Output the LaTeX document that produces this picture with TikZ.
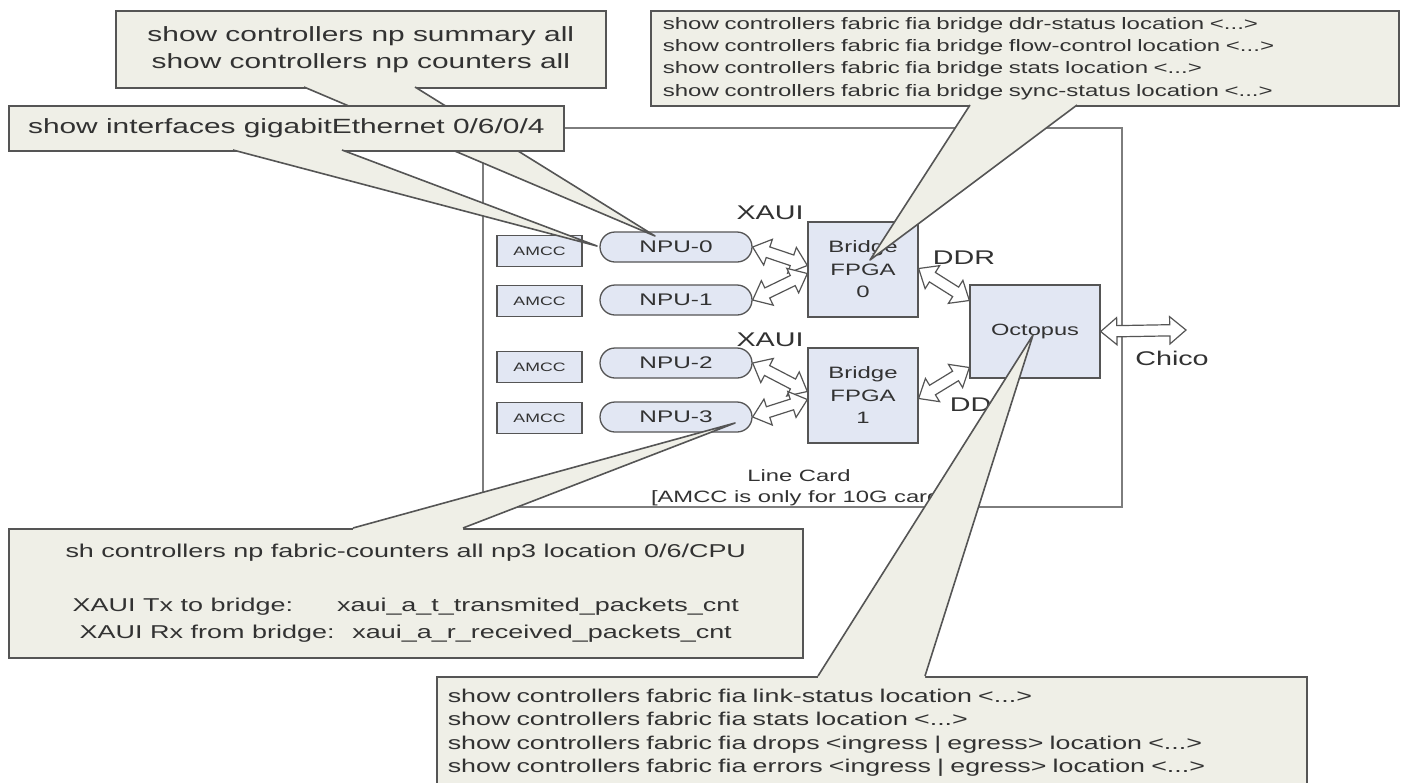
\documentclass[tikz,border=0pt]{standalone}
\usepackage{fontspec}
\setmainfont{Liberation Sans}[FakeStretch=1.45]
\usetikzlibrary{shapes.arrows,calc}
\definecolor{blockfill}{RGB}{226,231,243}
\definecolor{callfill}{RGB}{239,239,231}
\definecolor{edgecol}{RGB}{85,85,85}
\definecolor{txtcol}{RGB}{50,50,50}
\definecolor{cardcol}{RGB}{125,125,125}
\tikzset{
  every node/.style={text=txtcol},
  blockbox/.style={draw=edgecol, fill=blockfill, line width=1.3pt, inner sep=0pt},
  npubox/.style={blockbox, rounded corners=15pt, minimum width=152pt, minimum height=30pt, font=\fontsize{16.8}{20}\selectfont},
  amccbox/.style={blockbox, minimum width=85pt, minimum height=31pt, font=\fontsize{12.2}{14}\selectfont},
  bridgebox/.style={blockbox, minimum width=110pt, minimum height=95pt, align=center, font=\fontsize{16.5}{22.5}\selectfont},
  octbox/.style={blockbox, minimum width=130pt, minimum height=93pt, font=\fontsize{16.3}{20}\selectfont},
  cardbox/.style={draw=cardcol, fill=white, line width=1.8pt, inner sep=0pt, anchor=north west},
  callbox/.style={draw=edgecol, fill=callfill, line width=1.6pt, inner sep=0pt, anchor=north west},
  callline/.style={draw=edgecol, line width=1.6pt, line join=round},
  dblarr/.style={double arrow, draw=edgecol, fill=white, line width=1.2pt, inner xsep=0pt, inner ysep=5pt, minimum width=26pt, double arrow head extend=8pt, double arrow tip angle=80},
  biglabel/.style={font=\fontsize{19.8}{22}\selectfont, inner sep=0pt},
  smalllabel/.style={font=\fontsize{16.4}{21}\selectfont, inner sep=0pt, align=center},
}
\newcommand{\dblarrow}[3]{%
  \path let \p1=(#2), \p2=(#3), \n1={atan2(\y2-\y1,\x2-\x1)}, \n2={veclen(\x2-\x1,\y2-\y1)} in
    node[dblarr, minimum height=\n2, rotate=\n1] (#1) at ($(\p1)!0.5!(\p2)$) {};}
\newcommand{\calltail}[4]{%
  \fill[callfill] ($(#1)+(0,#4)$) -- (#1) -- (#2) -- (#3) -- ($(#3)+(0,#4)$) -- cycle;
  \draw[callline] (#1) -- (#2) -- (#3);}
\begin{document}
\begin{tikzpicture}[x=1pt,y=-1pt]
\fill[white] (0,0) rectangle (1404,782);
\useasboundingbox (0,0) rectangle (1404,782);

% line card
\node[cardbox, minimum width=639pt, minimum height=379pt] (card) at (482,127) {};

% blocks
\node[amccbox] (amcc0) at (539.5,251) {AMCC};
\node[amccbox] (amcc1) at (539.5,301) {AMCC};
\node[amccbox] (amcc2) at (539.5,367) {AMCC};
\node[amccbox] (amcc3) at (539.5,418) {AMCC};
\node[npubox] (npu0) at (676,247) {NPU-0};
\node[npubox] (npu1) at (676,300) {NPU-1};
\node[npubox] (npu2) at (676,363) {NPU-2};
\node[npubox] (npu3) at (676,417) {NPU-3};
\node[bridgebox] (br0) at (863,269.5) {Bridge\\FPGA\\0};
\node[bridgebox] (br1) at (863,395.5) {Bridge\\FPGA\\1};
\node[octbox] (oct) at (1035,331.5) {Octopus};
\coordinate (chicoend) at (1186,330);

% arrows
\dblarrow{ar1}{npu0.east}{$(br0.west)+(0,-4)$}
\dblarrow{ar2}{npu1.east}{$(br0.west)+(0,4)$}
\dblarrow{ar3}{npu2.east}{$(br1.west)+(0,-4)$}
\dblarrow{ar4}{npu3.east}{$(br1.west)+(0,4)$}
\dblarrow{ar5}{$(br0.east)+(0,-1)$}{$(oct.west)+(0,-31)$}
\dblarrow{ar6}{$(br1.east)+(0,3)$}{$(oct.west)+(0,36)$}
\dblarrow{ar7}{oct.east}{chicoend}

% labels
\node[biglabel] (xaui0) at (770,213) {XAUI};
\node[biglabel] (xaui1) at (770,340) {XAUI};
\node[biglabel] (ddr0) at (964,258) {DDR};
\node[biglabel] (ddr1) at (981,405) {DDR};
\node[biglabel] (chico) at (1172,358) {Chico};
\node[smalllabel] (cardlbl) at (799,487.5) {Line Card\\{[}AMCC is only for 10G card{]}};

% callout: np summary
\node[callbox, minimum width=490pt, minimum height=77pt, align=center, font=\fontsize{20.6}{27}\selectfont] (summ) at (115,10)
  {show controllers np summary all\\show controllers np counters all};
\coordinate (s1) at (304,87);
\coordinate (s2) at (415,87);
\coordinate (stip) at (655,236);
\calltail{s1}{stip}{s2}{-3}

% callout: interfaces
\node[callbox, minimum width=555pt, minimum height=45pt, font=\fontsize{20.6}{27}\selectfont] (gige) at (8,105)
  {show interfaces gigabitEthernet 0/6/0/4};
\coordinate (g1) at (233,150);
\coordinate (g2) at (342,150);
\coordinate (gtip) at (597,246);
\calltail{g1}{gtip}{g2}{-3}

% callout: fia bridge
\node[callbox, minimum height=95pt, inner xsep=12pt, text width=724pt, align=left, font=\fontsize{16.6}{22.3}\selectfont] (fiab) at (650,10)
  {show controllers fabric fia bridge ddr-status location <...>\\
   show controllers fabric fia bridge flow-control location <...>\\
   show controllers fabric fia bridge stats location <...>\\
   show controllers fabric fia bridge sync-status location <...>};
\coordinate (f1) at (970,105);
\coordinate (f2) at (1077,105);
\coordinate (ftip) at (870,260);
\calltail{f1}{ftip}{f2}{-3}

% callout: np fabric counters
\node[callbox, minimum width=794pt, minimum height=129pt, align=center, font=\fontsize{18.6}{27}\selectfont] (npc) at (8,528)
  {sh controllers np fabric-counters all np3 location 0/6/CPU\\[27pt]
   XAUI Tx to bridge:\hspace{44pt}xaui\_a\_t\_transmited\_packets\_cnt\\
   XAUI Rx from bridge:\hspace{18pt}xaui\_a\_r\_received\_packets\_cnt};
\coordinate (n1) at (353,528);
\coordinate (n2) at (463,528);
\coordinate (ntip) at (735,423);
\calltail{n1}{ntip}{n2}{3}

% callout: fia
\node[callbox, minimum height=112pt, inner xsep=11pt, text width=848pt, align=left, font=\fontsize{18.5}{23.3}\selectfont] (fiaf) at (436,676)
  {show controllers fabric fia link-status location <...>\\
   show controllers fabric fia stats location <...>\\
   show controllers fabric fia drops <ingress | egress> location <...>\\
   show controllers fabric fia errors <ingress | egress> location <...>};
\coordinate (o1) at (818,676);
\coordinate (o2) at (925,676);
\coordinate (otip) at (1033,335);
\calltail{o1}{otip}{o2}{3}
\end{tikzpicture}
\end{document}
